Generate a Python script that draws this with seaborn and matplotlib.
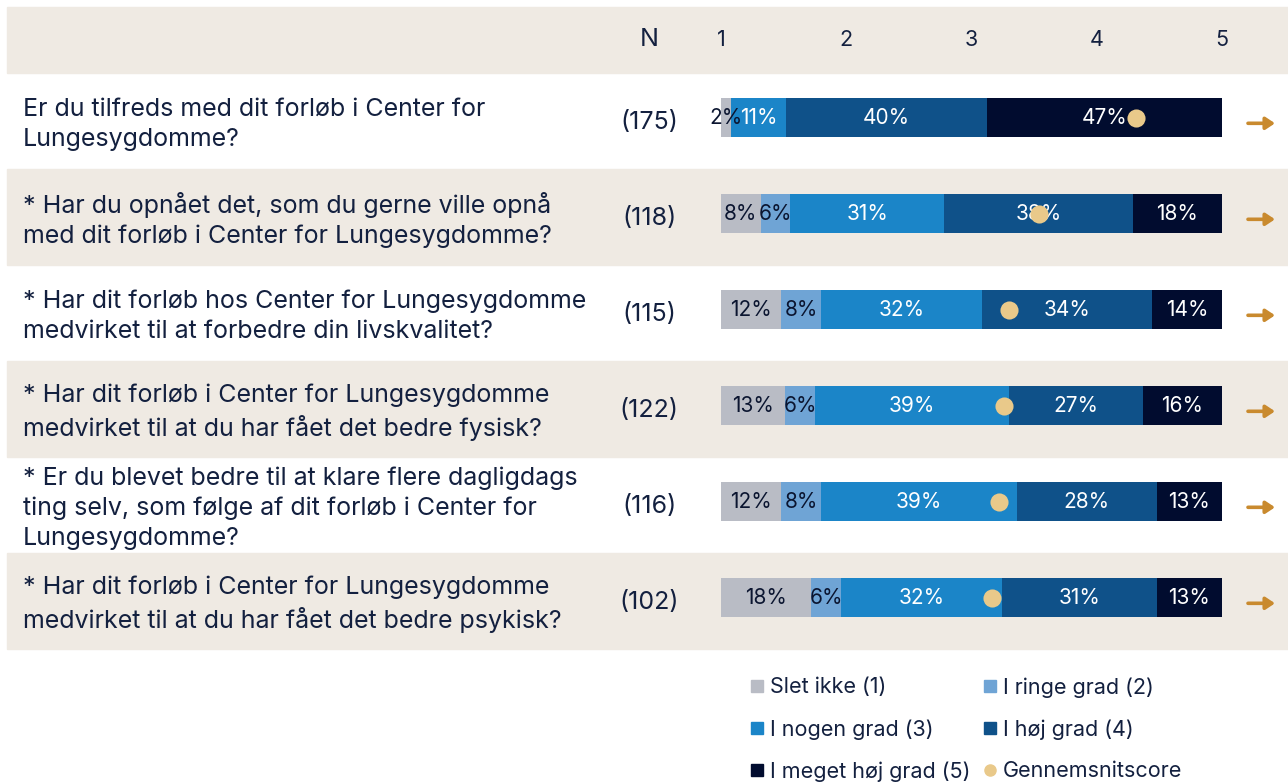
import matplotlib
matplotlib.use("Agg")
import matplotlib.pyplot as plt
from matplotlib.patches import Rectangle
from matplotlib.lines import Line2D
from matplotlib.transforms import blended_transform_factory
import seaborn as sns
import pandas as pd

# data
questions = [
    "Er du tilfreds med dit forløb i Center for\nLungesygdomme?",
    "* Har du opnået det, som du gerne ville opnå\nmed dit forløb i Center for Lungesygdomme?",
    "* Har dit forløb hos Center for Lungesygdomme\nmedvirket til at forbedre din livskvalitet?",
    "* Har dit forløb i Center for Lungesygdomme\nmedvirket til at du har fået det bedre fysisk?",
    "* Er du blevet bedre til at klare flere dagligdags\nting selv, som følge af dit forløb i Center for\nLungesygdomme?",
    "* Har dit forløb i Center for Lungesygdomme\nmedvirket til at du har fået det bedre psykisk?",
]
n_resp = [175, 118, 115, 122, 116, 102]
slet_ikke = [2, 8, 12, 13, 12, 18]
ringe_grad = [0, 6, 8, 6, 8, 6]
nogen_grad = [11, 31, 32, 39, 39, 32]
hoej_grad = [40, 38, 34, 27, 28, 31]
meget_hoej = [47, 18, 14, 16, 13, 13]
mean_score = [4.31, 3.54, 3.30, 3.26, 3.22, 3.16]
scale_ticks = [1, 2, 3, 4, 5]

categories = ["Slet ikke (1)", "I ringe grad (2)", "I nogen grad (3)",
              "I høj grad (4)", "I meget høj grad (5)"]
colors = ["#b9bcc5", "#6fa4d5", "#1b85c8", "#0f5189", "#010c2f"]
label_colors = ["#0b1530", "#0b1530", "white", "white", "white"]
dot_color = "#e9c98a"
bg = "#efeae3"
txt = "#13203f"
arrow_col = "#c98a2e"

sns.set_theme(style="white")
plt.rcParams["font.family"] = ["Inter", "DejaVu Sans"]

df = pd.DataFrame({"question": questions, categories[0]: slet_ikke,
                   categories[1]: ringe_grad, categories[2]: nogen_grad,
                   categories[3]: hoej_grad, categories[4]: meget_hoej})
vals = df[categories]
pct = vals.div(vals.sum(axis=1), axis=0) * 100
cum = pct.cumsum(axis=1)

W, H = 1288, 783
fig = plt.figure(figsize=(W / 100, H / 100), dpi=100)
ax = fig.add_axes([721 / W, 1 - 649 / H, 501 / W, 576 / H])
d = 0.036

# stacked bars: draw largest cumulative first
for k in range(len(categories) - 1, -1, -1):
    sns.barplot(x=cum[categories[k]].values, y=df["question"], orient="h",
                color=colors[k], width=0.41, errorbar=None, ax=ax,
                saturation=1, linewidth=0, order=questions)

ax.set_xlim(0, 100)
ax.set_ylim(5.5 + d, -0.5 + d)

# row backgrounds
tr = blended_transform_factory(fig.transFigure, ax.transData)
fig_x0 = 7 / W
ax.add_patch(Rectangle((fig_x0, -0.5 + d - 66 / 96), 1 - fig_x0, 66 / 96,
                       transform=tr, color=bg, clip_on=False, zorder=0))
for i in range(len(questions)):
    if i % 2 == 1:
        ax.add_patch(Rectangle((fig_x0, i - 0.5 + d), 1 - fig_x0, 1,
                               transform=tr, color=bg, clip_on=False, zorder=0))

# percent labels
for i in range(len(questions)):
    left = 0
    for k, c in enumerate(categories):
        v = vals.iloc[i][c]
        w = pct.iloc[i][c]
        if v > 0:
            ax.text(left + w / 2, i, f"{v}%", ha="center", va="center",
                    color=label_colors[k], fontsize=15)
        left += w

# mean dots
ax.scatter([(m - 1) * 25 for m in mean_score], range(len(questions)),
           s=170, color=dot_color, zorder=5, linewidths=0)

ax.set_axis_off()

# header
hy = -0.5 + d - 33 / 96
for t in scale_ticks:
    ax.text((t - 1) * 25, hy, str(t), ha="center", va="center", color=txt,
            fontsize=15.5)
fig.text(649 / W, 1 - 40 / H, "N", ha="center", va="center", color=txt,
         fontsize=18)

# question text, N and arrows
for i, q in enumerate(questions):
    ax.text(23 / W, i + 0.07, q, transform=tr, ha="left", va="center",
            color=txt, fontsize=18, linespacing=1.37)
    ax.text(649 / W, i + 0.05, f"({n_resp[i]})", transform=tr, ha="center",
            va="center", color=txt, fontsize=18)
    ax.annotate("", xy=(1275 / W, i + 0.06), xytext=(1248 / W, i + 0.06),
                xycoords=tr, textcoords=tr,
                arrowprops=dict(arrowstyle="-|>,head_length=0.45,head_width=0.3",
                                color=arrow_col, lw=2.6, shrinkA=0, shrinkB=0))

# legend
handles = [Line2D([], [], marker="s", linestyle="", markersize=9,
                  color=c) for c in colors]
handles.append(Line2D([], [], marker="o", linestyle="", markersize=8,
                      color=dot_color))
labels = categories + ["Gennemsnitscore"]
order = [0, 2, 4, 1, 3, 5]
fig.legend([handles[j] for j in order], [labels[j] for j in order],
           ncol=2, loc="upper left", bbox_to_anchor=(751 / W, 1 - 677 / H),
           frameon=False, fontsize=15.5, labelcolor=txt, handlelength=0.6,
           handletextpad=0.3, labelspacing=1.0, columnspacing=0.6,
           borderpad=0, borderaxespad=0)

fig.savefig("out.png", dpi=100, facecolor="white")
